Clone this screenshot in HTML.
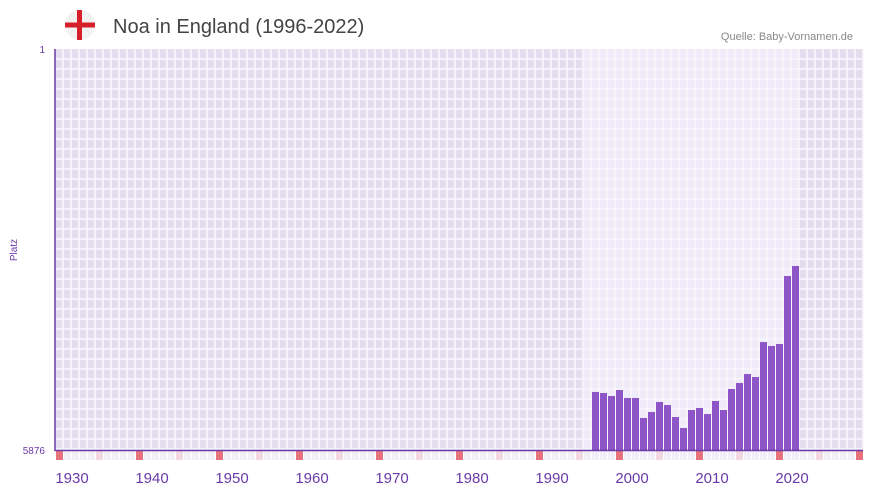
<!DOCTYPE html>
<html><head><meta charset="utf-8"><style>
html,body{margin:0;padding:0;background:#fff;}
svg{display:block;font-family:"Liberation Sans",sans-serif;}
</style></head><body>
<svg id="chart" width="873" height="492" viewBox="0 0 873 492">
  <g>
    <circle cx="80" cy="25" r="15" fill="#f2f2f2"/>
    <rect x="77" y="10" width="5" height="30" fill="#d61f2a"/>
    <rect x="65" y="22.5" width="30" height="5" fill="#d61f2a"/>
  </g>
  <text x="113" y="33" font-size="20" fill="#444">Noa in England (1996-2022)</text>
  <text x="853" y="40" font-size="11" fill="#888" text-anchor="end">Quelle: Baby-Vornamen.de</text>
  <g id="bg"></g>
  <g id="grid"></g>
  <g id="bars"></g>
  <g id="markers"></g>
  <line x1="55" y1="49" x2="55" y2="451" stroke="#6a3aa8" stroke-width="1.5"/>
  <line x1="55" y1="450.5" x2="863" y2="450.5" stroke="#6a3aa8" stroke-width="1.5"/>
  <text x="45" y="53" font-size="10" fill="#6a3aa8" text-anchor="end">1</text>
  <text x="45" y="454" font-size="10" fill="#6a3aa8" text-anchor="end">5876</text>
  <text transform="translate(17,250) rotate(-90)" font-size="10" fill="#6a3aa8" text-anchor="middle">Platz</text>
  <g id="xlabels"></g>
</svg>
<script>
const years = [1997,1998,1999,2000,2001,2002,2003,2004,2005,2006,2007,2008,2009,2010,2011,2012,2013,2014,2015,2016,2017,2018,2019,2020,2021,2022];
const ranks = [5026,5041,5085,4997,5114,5114,5407,5319,5173,5217,5393,5554,5290,5261,5349,5158,5290,4982,4894,4763,4807,4294,4352,4323,3327,3180];
const xTickLabels = [1930,1940,1950,1960,1970,1980,1990,2000,2010,2020];
const rankMin = 1, rankMax = 5876;
const yearStart = 1930, yearEnd = 2030;
const activeStart = 1996, activeEnd = 2022;

const NS = "http://www.w3.org/2000/svg";
const plotLeft = 55, plotTop = 49, plotBottom = 450, cellW = 8;
function xS(y){ return plotLeft + (y - yearStart) * cellW; }
function yS(r){ return plotTop + (r - rankMin) / (rankMax - rankMin) * (plotBottom - plotTop); }
function mk(tag, attrs, parent){ const e = document.createElementNS(NS, tag); for (const k in attrs) e.setAttribute(k, attrs[k]); parent.appendChild(e); return e; }

const bgG = document.getElementById('bg');
const r1 = mk('rect', {x:plotLeft, y:plotTop, width:808, height:plotBottom-plotTop, fill:'#e3deed'}, bgG);


const r2 = mk('rect', {x:xS(activeStart), y:plotTop, width:xS(activeEnd+1)-xS(activeStart), height:plotBottom-plotTop, fill:'#efebf8'}, bgG);



const gridG = document.getElementById('grid');
let gp = '';
for (let x = plotLeft + cellW; x < 864; x += cellW) gp += 'M' + x + ' ' + plotTop + 'V' + plotBottom;
for (let y = plotTop + 10; y < plotBottom; y += 10) gp += 'M' + plotLeft + ' ' + y + 'H863';
const gl = mk('path', {d:gp, stroke:'#f8f6fb', 'stroke-width':1.6, fill:'none'}, gridG);



const barsG = document.getElementById('bars');
years.forEach((yr, i) => {
  const y = yS(ranks[i]);
  const b = mk('rect', {x:xS(yr)+1, y:y, width:cellW-1, height:plotBottom-y, fill:'#8e55c8'}, barsG);
  
  
});

const markersG = document.getElementById('markers');
for (let yr = yearStart; yr <= yearEnd; yr++) {
  let fill = '#f3effa';
  if (yr % 10 === 0) fill = '#e8737d';
  else if (yr % 10 === 5) fill = '#f2d8e2';
  const m = mk('rect', {x:xS(yr)+1, y:451, width:cellW-1, height:9, fill:fill}, markersG);
  
  
}

const xlG = document.getElementById('xlabels');
xTickLabels.forEach(t => {
  const tx = mk('text', {x:xS(t)+17, y:483, 'font-size':15, fill:'#6a3aa8', 'text-anchor':'middle'}, xlG);
  tx.textContent = t;
  
  
});
</script>
</body></html>
